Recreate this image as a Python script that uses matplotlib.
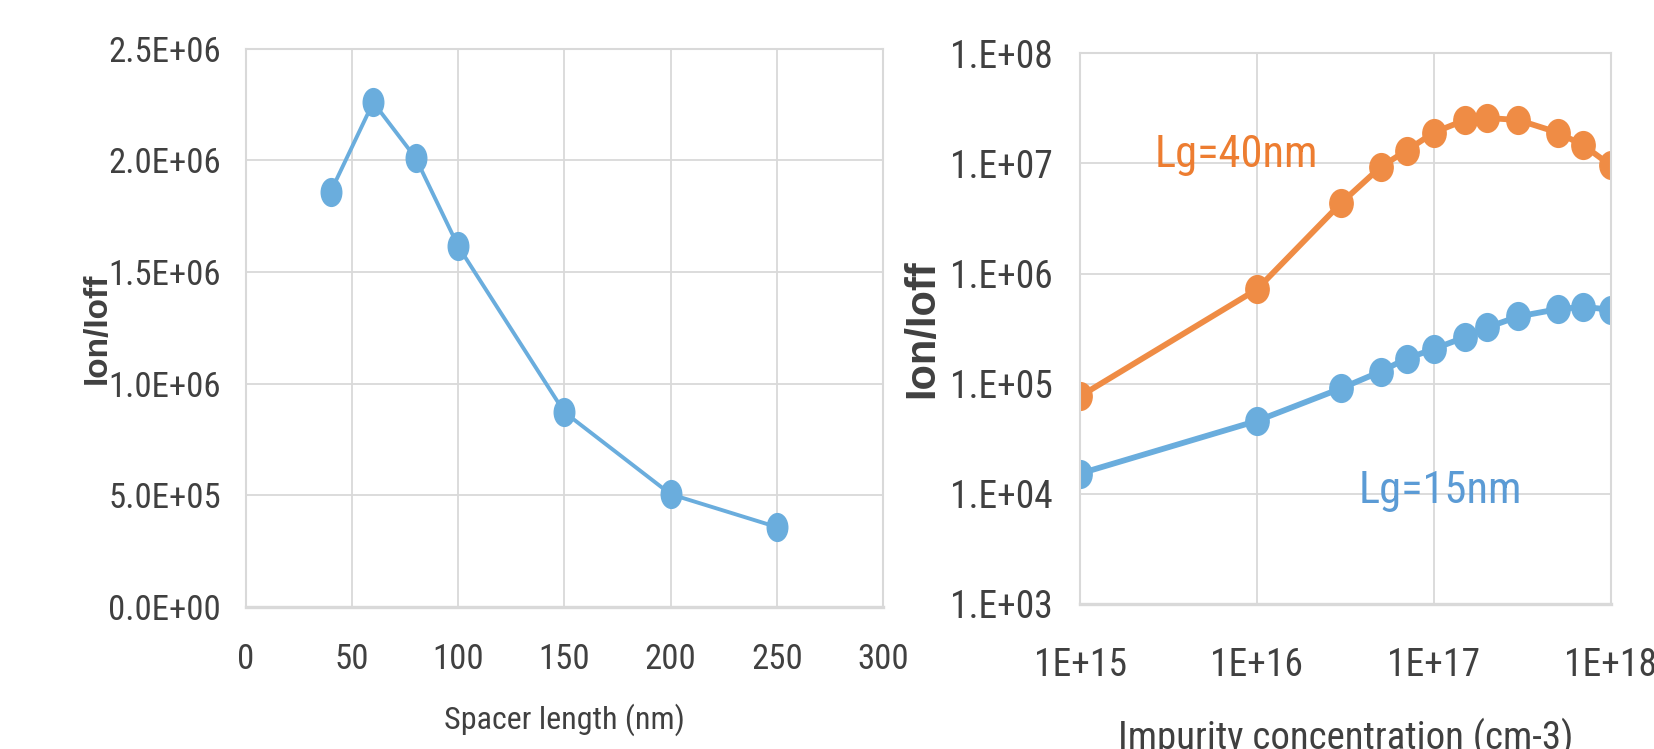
import numpy as np
import matplotlib
matplotlib.use("Agg")
import matplotlib.pyplot as plt
from matplotlib.path import Path
from matplotlib.markers import MarkerStyle
from matplotlib.ticker import FuncFormatter, FixedLocator

# --- data ---
spacer_nm = [40, 60, 80, 100, 150, 200, 250]
ratio_spacer = [1.86e6, 2.26e6, 2.01e6, 1.615e6, 0.872e6, 0.505e6, 0.358e6]

impurity = [1e15, 1e16, 3e16, 5e16, 7e16, 1e17, 1.5e17, 2e17, 3e17, 5e17, 7e17, 1e18]
ratio_lg40 = [7.7e4, 7.2e5, 4.4e6, 9.3e6, 1.31e7, 1.91e7, 2.48e7, 2.59e7, 2.48e7, 1.91e7, 1.46e7, 9.6e6]
ratio_lg15 = [1.53e4, 4.6e4, 9.1e4, 1.29e5, 1.69e5, 2.07e5, 2.65e5, 3.24e5, 4.08e5, 4.75e5, 4.99e5, 4.7e5]

left_xticks = [0, 50, 100, 150, 200, 250, 300]
left_yticks = [0, 5e5, 1e6, 1.5e6, 2e6, 2.5e6]
right_xticks = [1e15, 1e16, 1e17, 1e18]
right_yticks = [1e3, 1e4, 1e5, 1e6, 1e7, 1e8]

BLUE = "#6aaddd"
ORANGE = "#ef8c45"
GRID = "#d9d9d9"
TXT = "#404040"
NARROW = ["Roboto Condensed", "Liberation Sans", "DejaVu Sans"]
BOLD = ["Liberation Sans", "DejaVu Sans"]

plt.rcParams["font.family"] = NARROW


def ellipse_marker(ratio):
    c = Path.unit_circle()
    v = c.vertices * np.array([ratio, 1.0])
    return MarkerStyle(Path(v, c.codes))


def style_axes(ax, xpad, ypad, size):
    ax.grid(True, color=GRID, lw=1.3)
    ax.set_axisbelow(True)
    for s in ax.spines.values():
        s.set_color(GRID)
        s.set_linewidth(1.5)
    ax.spines["bottom"].set_linewidth(2.4)
    ax.tick_params(length=0, labelsize=size, labelcolor=TXT)
    ax.tick_params(axis="x", pad=xpad)
    ax.tick_params(axis="y", pad=ypad)


fig = plt.figure(figsize=(16.54, 7.49), dpi=100)

# left panel: spacer length
ax1 = fig.add_axes([0.1486, 0.1896, 0.3853, 0.7454])
ax1.plot(spacer_nm, ratio_spacer, color=BLUE, lw=2.8,
         marker=ellipse_marker(0.74), ms=20, mec=BLUE, mfc=BLUE)
ax1.set_xlim(0, 300)
ax1.set_ylim(0, 2.5e6)
ax1.xaxis.set_major_locator(FixedLocator(left_xticks))
ax1.yaxis.set_major_locator(FixedLocator(left_yticks))
ax1.yaxis.set_major_formatter(FuncFormatter(lambda v, p: f"{v:.1E}"))
style_axes(ax1, 26, 18, 25)
ax1.set_xlabel("Spacer length (nm)", fontsize=23, color=TXT, va="center")
ax1.xaxis.set_label_coords(0.5, -0.202)
ax1.set_ylabel("Ion/Ioff", fontsize=24, fontweight="bold", color=TXT,
               family=BOLD, va="center")
ax1.yaxis.set_label_coords(-0.233, 0.5)

# right panel: impurity concentration
ax2 = fig.add_axes([0.6530, 0.1936, 0.3209, 0.7352])
ax2.set_xscale("log")
ax2.set_yscale("log")
ax2.plot(impurity, ratio_lg40, color=ORANGE, lw=4.2,
         marker=ellipse_marker(0.84), ms=20, mec=ORANGE, mfc=ORANGE)
ax2.plot(impurity, ratio_lg15, color=BLUE, lw=4.2,
         marker=ellipse_marker(0.84), ms=20, mec=BLUE, mfc=BLUE)
ax2.set_xlim(1e15, 1e18)
ax2.set_ylim(1e3, 1e8)
ax2.xaxis.set_major_locator(FixedLocator(right_xticks))
ax2.yaxis.set_major_locator(FixedLocator(right_yticks))
ax2.xaxis.set_minor_locator(FixedLocator([]))
ax2.yaxis.set_minor_locator(FixedLocator([]))
ax2.xaxis.set_major_formatter(FuncFormatter(lambda v, p: f"{v:.0E}"))
ax2.yaxis.set_major_formatter(FuncFormatter(lambda v, p: f"{v:#.0E}"))
style_axes(ax2, 31, 20, 27)
ax2.set_xlabel("Impurity concentration (cm-3)", fontsize=28, color=TXT, va="center")
ax2.xaxis.set_label_coords(0.5, -0.243)
ax2.set_ylabel("Ion/Ioff", fontsize=30, fontweight="bold", color=TXT,
               family=BOLD, va="center")
ax2.yaxis.set_label_coords(-0.298, 0.5)

ax2.text(2.65e15, 9.3e6, "Lg=40nm", color="#ed7d31", fontsize=32, va="baseline")
ax2.text(3.73e16, 8.26e3, "Lg=15nm", color="#5b9bd5", fontsize=32, va="baseline")

fig.savefig("out.png", dpi=100)
